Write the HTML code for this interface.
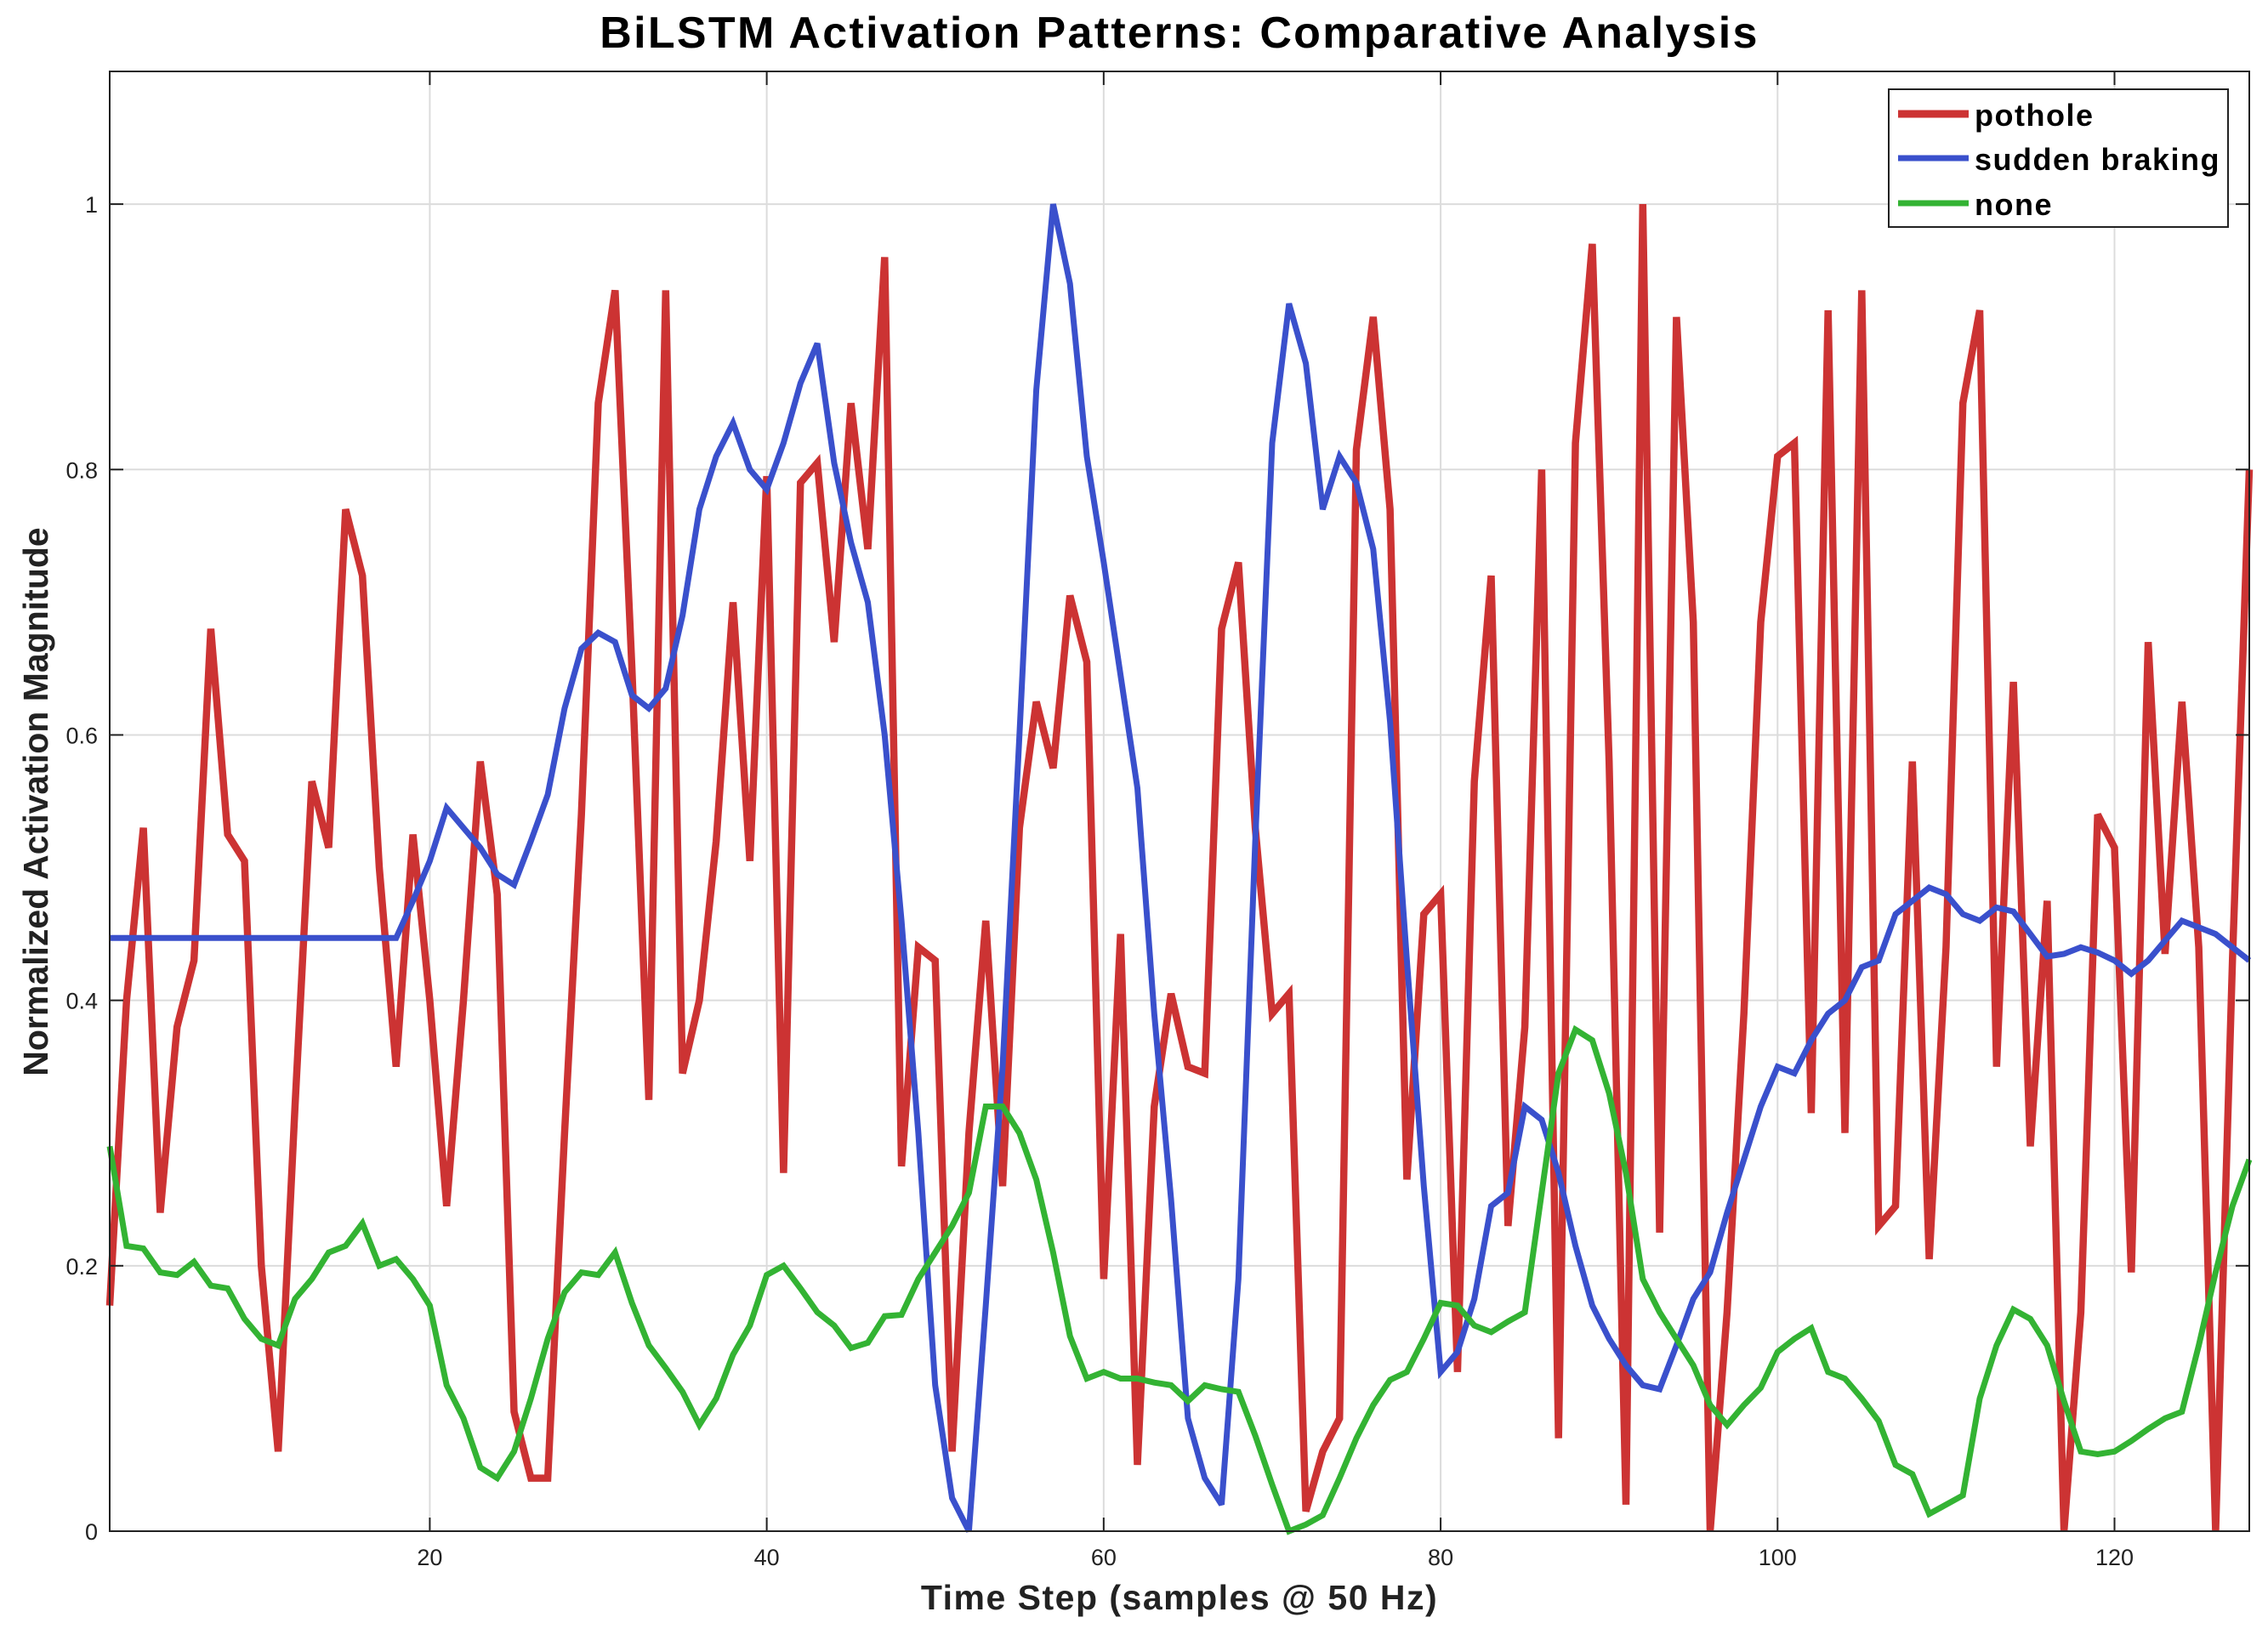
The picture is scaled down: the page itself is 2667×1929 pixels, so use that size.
<!DOCTYPE html>
<html><head><meta charset="utf-8"><style>
body{margin:0;background:#fff}
svg{display:block;font-family:"Liberation Sans",Arial,sans-serif}
</style></head><body>
<svg id="chart" width="2667" height="1929" viewBox="0 0 2667 1929" xmlns="http://www.w3.org/2000/svg">
<rect x="0" y="0" width="2667" height="1929" fill="#fff"/>
<g id="grid"></g>
<g id="series"></g>
<g id="axes"></g>
<text x="1387" y="56" text-anchor="middle" font-size="52" font-weight="bold" letter-spacing="2.3" fill="#000">BiLSTM Activation Patterns: Comparative Analysis</text>
<text x="1387" y="1893" text-anchor="middle" font-size="41" font-weight="bold" letter-spacing="1.5" fill="#222">Time Step (samples @ 50 Hz)</text>
<text transform="translate(56,943) rotate(-90)" text-anchor="middle" font-size="41" font-weight="bold" fill="#222">Normalized Activation Magnitude</text>
<g>
<rect x="2221" y="105" width="399" height="162" fill="#fff" stroke="#222" stroke-width="2"/>
<line x1="2232" y1="134" x2="2315" y2="134" stroke="#cc3333" stroke-width="9"/>
<text x="2322" y="148" font-size="36" font-weight="bold" letter-spacing="1.5">pothole</text>
<line x1="2232" y1="186" x2="2315" y2="186" stroke="#3a50cc" stroke-width="7"/>
<text x="2322" y="200" font-size="36" font-weight="bold" letter-spacing="1.5">sudden braking</text>
<line x1="2232" y1="239" x2="2315" y2="239" stroke="#33b333" stroke-width="7"/>
<text x="2322" y="253" font-size="36" font-weight="bold" letter-spacing="1.5">none</text>
</g>
</svg>
<script>
const pothole=[0.17,0.40,0.53,0.24,0.38,0.43,0.68,0.525,0.505,0.20,0.06,0.32,0.565,0.515,0.77,0.72,0.50,0.35,0.525,0.40,0.245,0.40,0.58,0.48,0.09,0.04,0.04,0.30,0.54,0.85,0.935,0.65,0.325,0.935,0.345,0.40,0.52,0.70,0.505,0.795,0.27,0.79,0.805,0.67,0.85,0.74,0.96,0.275,0.44,0.43,0.06,0.30,0.46,0.26,0.53,0.625,0.575,0.705,0.655,0.19,0.45,0.05,0.32,0.405,0.35,0.345,0.68,0.73,0.53,0.39,0.405,0.015,0.06,0.085,0.815,0.915,0.77,0.265,0.465,0.48,0.12,0.565,0.72,0.23,0.38,0.80,0.07,0.82,0.97,0.58,0.02,1.0,0.225,0.915,0.685,0.0,0.165,0.39,0.685,0.81,0.82,0.315,0.92,0.30,0.935,0.23,0.245,0.58,0.205,0.44,0.85,0.92,0.35,0.64,0.29,0.475,0.0,0.165,0.54,0.515,0.195,0.67,0.435,0.625,0.44,0.0,0.43,0.80];
const braking=[0.447,0.447,0.447,0.447,0.447,0.447,0.447,0.447,0.447,0.447,0.447,0.447,0.447,0.447,0.447,0.447,0.447,0.447,0.475,0.505,0.545,0.53,0.515,0.495,0.487,0.52,0.555,0.62,0.665,0.677,0.67,0.63,0.62,0.635,0.69,0.77,0.81,0.835,0.80,0.785,0.82,0.865,0.895,0.805,0.745,0.70,0.60,0.46,0.30,0.11,0.025,0.0,0.17,0.35,0.60,0.86,1.0,0.94,0.81,0.73,0.645,0.56,0.39,0.25,0.085,0.04,0.02,0.19,0.52,0.82,0.925,0.88,0.77,0.81,0.79,0.74,0.61,0.43,0.26,0.12,0.135,0.175,0.245,0.255,0.32,0.31,0.27,0.215,0.17,0.145,0.125,0.11,0.107,0.14,0.175,0.195,0.24,0.28,0.32,0.35,0.345,0.37,0.39,0.40,0.425,0.43,0.465,0.475,0.485,0.48,0.465,0.46,0.47,0.467,0.45,0.433,0.435,0.44,0.436,0.43,0.42,0.43,0.445,0.46,0.455,0.45,0.44,0.43];
const none=[0.29,0.215,0.213,0.195,0.193,0.203,0.185,0.183,0.16,0.145,0.14,0.175,0.19,0.21,0.215,0.232,0.20,0.205,0.19,0.17,0.11,0.085,0.048,0.04,0.06,0.10,0.145,0.18,0.195,0.193,0.21,0.172,0.14,0.123,0.105,0.08,0.10,0.133,0.155,0.193,0.20,0.183,0.165,0.155,0.138,0.142,0.162,0.163,0.19,0.21,0.23,0.255,0.32,0.32,0.30,0.265,0.21,0.147,0.115,0.12,0.115,0.115,0.112,0.11,0.098,0.11,0.107,0.105,0.072,0.035,0.0,0.005,0.012,0.04,0.07,0.095,0.114,0.12,0.145,0.172,0.17,0.155,0.15,0.158,0.165,0.255,0.345,0.378,0.37,0.33,0.27,0.19,0.165,0.145,0.125,0.095,0.08,0.095,0.108,0.135,0.145,0.153,0.12,0.115,0.10,0.083,0.05,0.043,0.013,0.02,0.027,0.10,0.14,0.167,0.16,0.14,0.098,0.06,0.058,0.06,0.068,0.077,0.085,0.09,0.14,0.195,0.245,0.28];
const xTicks=[20,40,60,80,100,120];
const yTicks=[0,0.2,0.4,0.6,0.8,1];
const yTickLabels=["0","0.2","0.4","0.6","0.8","1"];
const L=129,R=2645,T=84,B=1801,XMIN=1,XMAX=128,YMIN=0,YMAX=1.1;
function sx(v){return L+(v-XMIN)/(XMAX-XMIN)*(R-L);}
function sy(v){return B-(v-YMIN)/(YMAX-YMIN)*(B-T);}
const NS="http://www.w3.org/2000/svg";
function mk(tag,attrs,parent){const e=document.createElementNS(NS,tag);for(const k in attrs)e.setAttribute(k,attrs[k]);parent.appendChild(e);return e;}
const grid=document.getElementById('grid'),axes=document.getElementById('axes'),ser=document.getElementById('series');
xTicks.forEach(t=>{
  const g=mk('line',{x1:sx(t),x2:sx(t),y1:T,y2:B,stroke:'#dcdcdc','stroke-width':2},grid);
  
  
  mk('line',{x1:sx(t),x2:sx(t),y1:B,y2:B-16,stroke:'#222','stroke-width':2},axes);
  mk('line',{x1:sx(t),x2:sx(t),y1:T,y2:T+16,stroke:'#222','stroke-width':2},axes);
  const tx=mk('text',{x:sx(t),y:B+40,'text-anchor':'middle','font-size':27,fill:'#222'},axes);
  tx.textContent=t;
  
  
});
yTicks.forEach((t,i)=>{
  const g=mk('line',{x1:L,x2:R,y1:sy(t),y2:sy(t),stroke:'#dcdcdc','stroke-width':2},grid);
  
  
  mk('line',{x1:L,x2:L+16,y1:sy(t),y2:sy(t),stroke:'#222','stroke-width':2},axes);
  mk('line',{x1:R,x2:R-16,y1:sy(t),y2:sy(t),stroke:'#222','stroke-width':2},axes);
  const tx=mk('text',{x:L-14,y:sy(t)+10,'text-anchor':'end','font-size':27,fill:'#222'},axes);
  tx.textContent=yTickLabels[i];
  
  
});
const box=mk('rect',{x:L,y:T,width:R-L,height:B-T,fill:'none',stroke:'#222','stroke-width':2},axes);


function line(arr,color,w,name){
  const d=arr.map((v,i)=>(i?'L':'M')+sx(i+1).toFixed(1)+' '+sy(v).toFixed(1)).join(' ');
  const p=mk('path',{d:d,fill:'none',stroke:color,'stroke-width':w,'stroke-linejoin':'miter','stroke-miterlimit':3},ser);
  
  
}
line(pothole,'#cc3333',8.5,'pothole-line');
line(braking,'#3a50cc',7,'sudden-braking-line');
line(none,'#33b333',7,'none-line');
</script>
</body></html>
